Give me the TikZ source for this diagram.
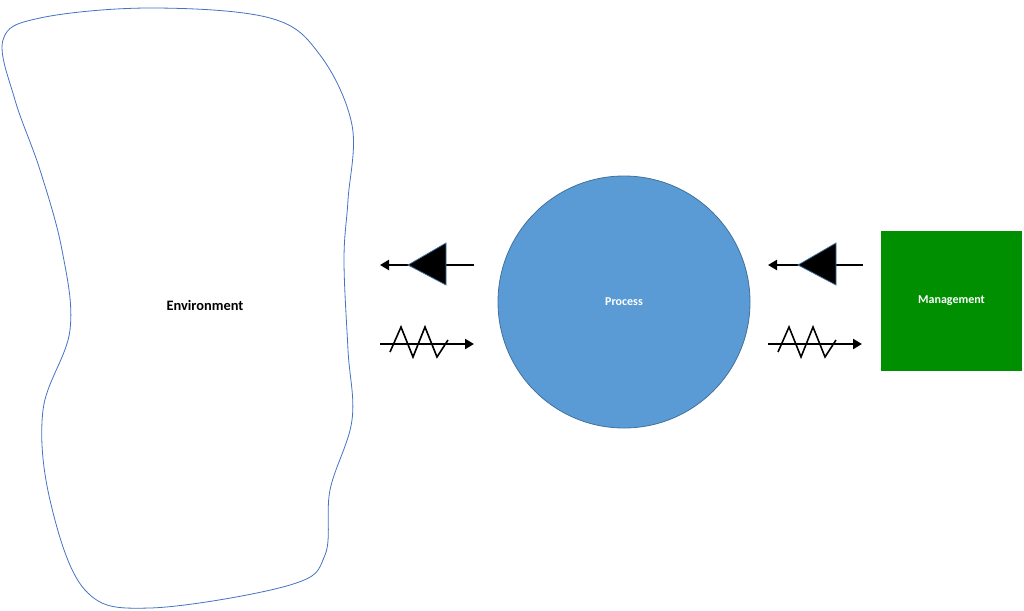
\documentclass[tikz,border=0pt]{standalone}
\usepackage{fontspec}
\setmainfont{Carlito}
\usetikzlibrary{arrows.meta}
\definecolor{procfill}{HTML}{5B9BD5}
\definecolor{procline}{HTML}{41719C}
\definecolor{mgmt}{HTML}{008F00}
\definecolor{blobline}{HTML}{4472C4}
\tikzset{
  flow/.style={line width=2.4pt,-{Triangle[length=9pt,width=10pt]}},
  tri/.style={fill=black,draw=procline,line width=0.8pt},
  zz/.style={line width=1.6pt,line join=miter},
  lbl/.style={font=\bfseries}
}
\begin{document}
\begin{tikzpicture}[x=1pt,y=-1pt]
\useasboundingbox (0,0) rectangle (1024,610);
\draw[blobline,line width=0.8pt] plot[smooth cycle,tension=0.6] coordinates{
 (40,18) (150,8) (270,18) (320,55) (352,125) (348,200) (344,260) (348,350) (352,420)
 (330,490) (325,555) (290,585) (150,608) (85,590) (50,500) (43,410) (70,330) (62,250) (40,170) (15,100) (3,40)};
\node[lbl,font=\bfseries\Large] (env) at (205,305) {Environment};
\node[circle,minimum size=252pt,fill=procfill,draw=procline,line width=0.8pt,text=white,lbl,font=\bfseries\large] (proc) at (624,302) {Process};
\node[rectangle,minimum width=141pt,minimum height=140pt,fill=mgmt,text=white,lbl,font=\bfseries\large] (mgmt) at (951.5,301) {Management};
% left pair
\coordinate (a1) at (474,265); \coordinate (a2) at (380,265);
\draw[flow] (a1) -- (a2);
\draw[tri] (408,265) -- (446,243) -- (446,285) -- cycle;
\coordinate (b1) at (380,344); \coordinate (b2) at (474,344);
\draw[flow] (b1) -- (b2);
\draw[zz] (390,352) -- (401,327) -- (413,357) -- (425,327) -- (437,357) -- (448,340);
% right pair
\coordinate (c1) at (863,265); \coordinate (c2) at (768,265);
\draw[flow] (c1) -- (c2);
\draw[tri] (798,265) -- (836,243) -- (836,285) -- cycle;
\coordinate (d1) at (768,344); \coordinate (d2) at (862,344);
\draw[flow] (d1) -- (d2);
\draw[zz] (778,352) -- (789,327) -- (801,357) -- (813,327) -- (825,357) -- (836,340);
\end{tikzpicture}
\end{document}
